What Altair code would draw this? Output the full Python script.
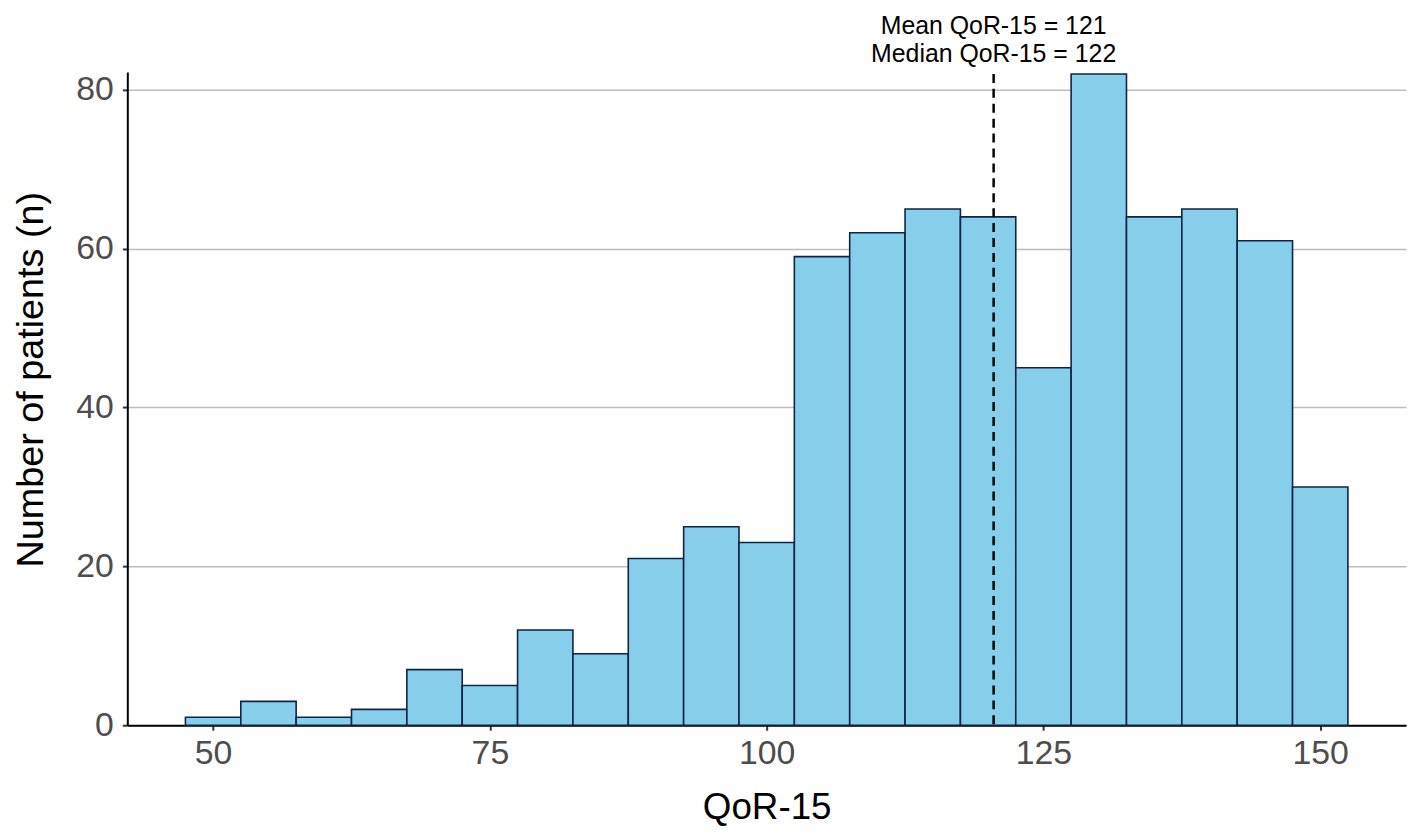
import altair as alt
import pandas as pd

# Histogram of QoR-15 scores (bins of width 5 centred on these values)
bin_centers = [50, 55, 60, 65, 70, 75, 80, 85, 90, 95, 100, 105, 110, 115, 120, 125, 130, 135, 140, 145, 150]
counts = [1, 3, 1, 2, 7, 5, 12, 9, 21, 25, 23, 59, 62, 65, 64, 45, 82, 64, 65, 61, 30]
bin_width = 5

x_ticks = [50, 75, 100, 125, 150]
y_ticks = [0, 20, 40, 60, 80]

mean_value = [120.5]
annotation_lines = ["Mean QoR-15 = 121", "Median QoR-15 = 122"]

df = pd.DataFrame({"center": bin_centers, "count": counts})
df["start"] = df["center"] - bin_width / 2
df["end"] = df["center"] + bin_width / 2

line_df = pd.DataFrame({"x": mean_value})
ann1 = pd.DataFrame({"x": mean_value, "label": [annotation_lines[0]]})
ann2 = pd.DataFrame({"x": mean_value, "label": [annotation_lines[1]]})

FONT = "Liberation Sans"
x_scale = alt.Scale(domain=[42.25, 157.75], nice=False, zero=False)
y_scale = alt.Scale(domain=[0, 82.25], nice=False)

bars = alt.Chart(df).mark_bar(
    fill="#87CEEB", stroke="#0f2444", strokeWidth=1.6
).encode(
    x=alt.X("start:Q", scale=x_scale,
            axis=alt.Axis(values=x_ticks, title="QoR-15", grid=False,
                          labelPadding=6, titleFontSize=37,
                          titleX=643, titleY=94, titleBaseline="alphabetic",
                          titleAlign="center")),
    x2="end:Q",
    y=alt.Y("count:Q", scale=y_scale,
            axis=alt.Axis(values=y_ticks, title="Number of patients (n)", grid=True,
                          labelPadding=9, titleFontSize=38,
                          titleAngle=270, titleX=-85, titleY=309,
                          titleBaseline="alphabetic", titleAlign="center")),
    y2=alt.datum(0),
)

rule = alt.Chart(line_df).mark_rule(
    color="black", strokeWidth=2.5, strokeDash=[9, 6]
).encode(
    x=alt.X("x:Q", scale=x_scale),
    y=alt.value(2),
    y2=alt.value(657),
)

text1 = alt.Chart(ann1).mark_text(
    font=FONT, fontSize=25, color="black", align="center", baseline="alphabetic"
).encode(x=alt.X("x:Q", scale=x_scale), y=alt.value(-38), text="label:N")

text2 = alt.Chart(ann2).mark_text(
    font=FONT, fontSize=25, color="black", align="center", baseline="alphabetic"
).encode(x=alt.X("x:Q", scale=x_scale), y=alt.value(-10), text="label:N")

chart = alt.layer(bars, rule, text1, text2).properties(
    width=1286,
    height=657,
    autosize=alt.AutoSizeParams(type="none"),
    padding={"left": 120, "top": 62, "right": 4, "bottom": 99},
).configure_view(
    stroke=None
).configure_axis(
    labelFont=FONT, titleFont=FONT,
    labelFontSize=34,
    labelColor="#4d4d4d", titleColor="black",
    titleFontWeight="normal",
    domainColor="black", domainWidth=2,
    tickColor="#333333", tickWidth=2, tickSize=5,
    gridColor="#bdbdbd", gridWidth=1.5,
)

chart.save("out.html", embed_options={"renderer": "svg", "actions": False})
